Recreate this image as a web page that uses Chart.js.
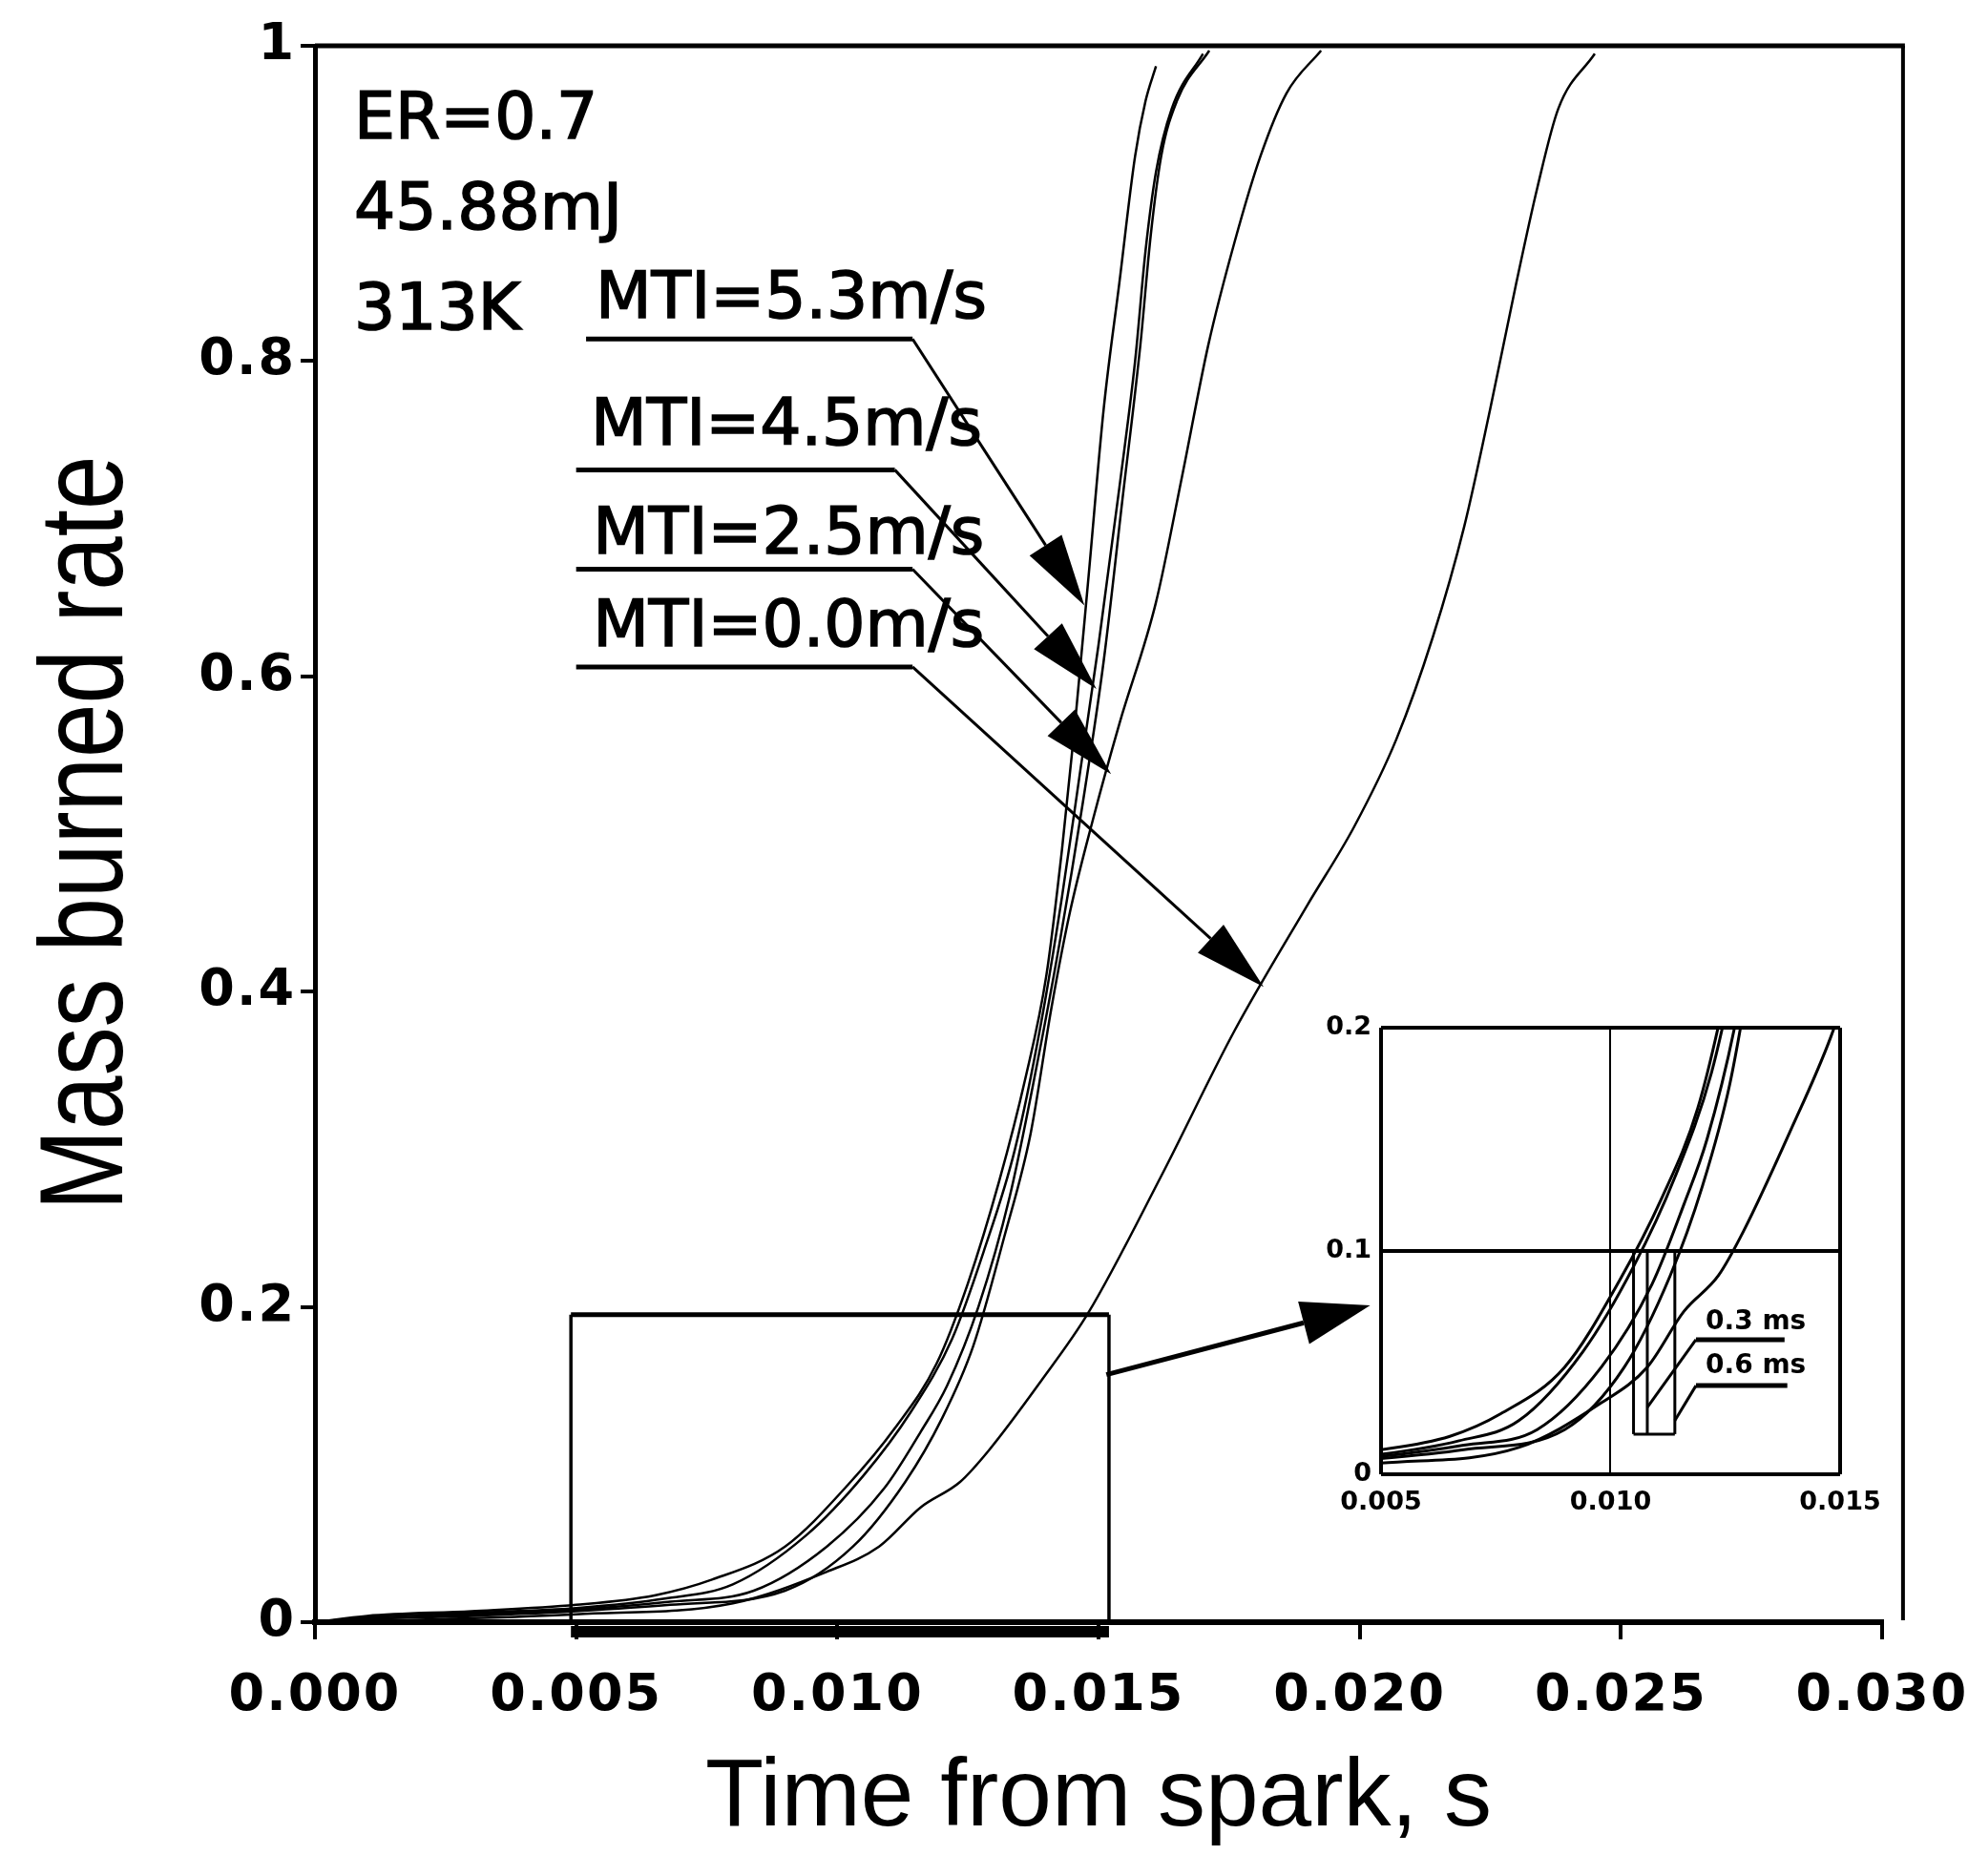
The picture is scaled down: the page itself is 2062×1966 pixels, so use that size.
<!DOCTYPE html>
<html>
<head>
<meta charset="utf-8">
<script src="https://cdn.jsdelivr.net/npm/chart.js@4.4.1/dist/chart.umd.min.js"></script>
<style>
  html, body { margin: 0; padding: 0; background: #fff; }
  #wrap { position: relative; width: 2062px; height: 1966px; background: #fff; overflow: hidden; }
  #mainChart { position: absolute; left: 0; top: 0; }
  #insetChart { position: absolute; left: 1380px; top: 1040px; }
</style>
</head>
<body>
<div id="wrap">
  <canvas id="mainChart" width="2062" height="1966"></canvas>
  <canvas id="insetChart" width="640" height="580"></canvas>
</div>
<script>
// values (time in s, mass burned fraction)
const mti53Time = [0, 0.0010, 0.0030, 0.0050, 0.0065, 0.0076, 0.0090, 0.0102, 0.0111, 0.0119, 0.0125, 0.0131, 0.0136, 0.0140, 0.0143, 0.01455, 0.0148, 0.0151, 0.0154, 0.0157, 0.0159, 0.0161];
const mti53Mass = [0, 0.004, 0.007, 0.011, 0.017, 0.027, 0.048, 0.087, 0.123, 0.164, 0.215, 0.28, 0.345, 0.41, 0.49, 0.57, 0.66, 0.77, 0.85, 0.93, 0.965, 0.987];

// fifth trace, no label in the figure (runs with the 4.5 m/s curve above ~0.6)
const extraTime = [0, 0.0010, 0.0030, 0.0050, 0.0067, 0.0080, 0.0094, 0.0105, 0.0114, 0.0122, 0.0128, 0.0134, 0.0139, 0.0143, 0.01465, 0.0150, 0.0154, 0.0157, 0.0159, 0.0161, 0.0164, 0.0170];
const extraMass = [0, 0.003, 0.006, 0.009, 0.015, 0.024, 0.055, 0.093, 0.133, 0.18, 0.235, 0.30, 0.38, 0.46, 0.54, 0.62, 0.72, 0.80, 0.87, 0.92, 0.96, 0.995];

const mti45Time = [0, 0.0010, 0.0030, 0.0050, 0.0068, 0.0084, 0.0098, 0.0109, 0.0116, 0.0121, 0.0127, 0.0133, 0.0138, 0.01425, 0.0147, 0.0151, 0.01545, 0.0158, 0.0160, 0.0162, 0.0165, 0.01712];
const mti45Mass = [0, 0.002, 0.005, 0.008, 0.013, 0.020, 0.048, 0.085, 0.121, 0.15, 0.2, 0.27, 0.35, 0.43, 0.52, 0.61, 0.71, 0.81, 0.88, 0.93, 0.965, 0.997];

const mti25Time = [0, 0.0010, 0.0030, 0.0050, 0.0068, 0.0090, 0.0103, 0.0113, 0.0120, 0.0126, 0.0132, 0.0137, 0.0141, 0.01445, 0.0149, 0.0154, 0.0161, 0.0166, 0.0171, 0.0176, 0.0181, 0.0186, 0.01926];
const mti25Mass = [0, 0.002, 0.004, 0.007, 0.011, 0.020, 0.048, 0.089, 0.129, 0.175, 0.245, 0.31, 0.39, 0.45, 0.51, 0.57, 0.647, 0.727, 0.81, 0.875, 0.93, 0.97, 0.997];

const mti00Time = [0, 0.0025, 0.0050, 0.0080, 0.0098, 0.0108, 0.0116, 0.01235, 0.0129, 0.0139, 0.0148, 0.0162, 0.0176, 0.0190, 0.0199, 0.0207, 0.0214, 0.0220, 0.0225, 0.0230, 0.0234, 0.0238, 0.0245];
const mti00Mass = [0, 0.002, 0.005, 0.012, 0.032, 0.048, 0.073, 0.089, 0.109, 0.153, 0.196, 0.283, 0.375, 0.455, 0.505, 0.56, 0.625, 0.695, 0.77, 0.85, 0.91, 0.96, 0.995];

const xTickLabels = ['0.000', '0.005', '0.010', '0.015', '0.020', '0.025', '0.030'];
const yTickLabels = ['0', '0.2', '0.4', '0.6', '0.8', '1'];
const insetXTickLabels = ['0.005', '0.010', '0.015'];
const insetYTickLabels = ['0', '0.1', '0.2'];

const curves = [
  { label: 'MTI=5.3m/s', t: mti53Time, m: mti53Mass },
  { label: 'unlabelled', t: extraTime, m: extraMass },
  { label: 'MTI=4.5m/s', t: mti45Time, m: mti45Mass },
  { label: 'MTI=2.5m/s', t: mti25Time, m: mti25Mass },
  { label: 'MTI=0.0m/s', t: mti00Time, m: mti00Mass }
];

function makeDatasets(width) {
  return curves.map(c => ({
    label: c.label,
    data: c.t.map((t, i) => ({ x: t, y: c.m[i] })),
    borderColor: '#000',
    borderWidth: width,
    pointRadius: 0,
    fill: false,
    cubicInterpolationMode: 'monotone'
  }));
}

const SANS = "'Liberation Sans', Arial, sans-serif";
const DEJA = "'DejaVu Sans', sans-serif";

// annotation anchors, in data units
const notes = {
  conditions: [['ER=0.7', 0.00075, 0.941], ['45.88mJ', 0.00075, 0.884], ['313K', 0.00075, 0.820]],
  mti: [
    { text: 'MTI=5.3m/s', x: 0.00537, y: 0.8275, from: 0.00519, to: 0.01144, lineY: 0.814, tip: [0.01473, 0.645] },
    { text: 'MTI=4.5m/s', x: 0.00528, y: 0.747, from: 0.0050, to: 0.0111, lineY: 0.731, tip: [0.01496, 0.592] },
    { text: 'MTI=2.5m/s', x: 0.00532, y: 0.678, from: 0.0050, to: 0.01144, lineY: 0.668, tip: [0.01524, 0.538] },
    { text: 'MTI=0.0m/s', x: 0.00532, y: 0.619, from: 0.0050, to: 0.01144, lineY: 0.606, tip: [0.01816, 0.403] }
  ],
  box: { x0: 0.0049, x1: 0.0152, y1: 0.195 },
  zoomArrow: { from: [0.01515, 0.157], to: [0.0202, 0.201] },
  frameRight: 0.0304
};

const insetNotesData = {
  delays: [0.0105, 0.0108, 0.0114],
  delayTop: 0.1,
  delayBottom: 0.018,
  labels: [
    { text: '0.3 ms', x: 0.01207, y: 0.065, from: 0.01186, to: 0.01379, lineY: 0.0603, end: [0.0108, 0.030] },
    { text: '0.6 ms', x: 0.01207, y: 0.0453, from: 0.01186, to: 0.01385, lineY: 0.0397, end: [0.0114, 0.024] }
  ]
};

function arrow(ctx, x1, y1, x2, y2, lw, headLen, headW) {
  const a = Math.atan2(y2 - y1, x2 - x1);
  const bx = x2 - headLen * Math.cos(a), by = y2 - headLen * Math.sin(a);
  ctx.lineWidth = lw;
  ctx.beginPath(); ctx.moveTo(x1, y1); ctx.lineTo(bx, by); ctx.stroke();
  ctx.beginPath();
  ctx.moveTo(x2, y2);
  ctx.lineTo(bx + headW / 2 * Math.sin(a), by - headW / 2 * Math.cos(a));
  ctx.lineTo(bx - headW / 2 * Math.sin(a), by + headW / 2 * Math.cos(a));
  ctx.closePath(); ctx.fill();
}

function seg(ctx, x1, y1, x2, y2, lw) {
  ctx.lineWidth = lw;
  ctx.beginPath(); ctx.moveTo(x1, y1); ctx.lineTo(x2, y2); ctx.stroke();
}

// text with a light outline so it reads as heavy as the scanned lettering
function heavyText(ctx, text, x, y) {
  ctx.fillText(text, x, y);
  ctx.lineWidth = 1.6;
  ctx.strokeText(text, x, y);
}

const figureNotes = {
  id: 'figureNotes',
  beforeDraw(chart) { chart.ctx.letterSpacing = '0px'; },
  afterDatasetsDraw(chart) {
    const { ctx, scales: { x, y } } = chart;
    const px = v => x.getPixelForValue(v), py = v => y.getPixelForValue(v);
    ctx.save();
    ctx.strokeStyle = '#000'; ctx.fillStyle = '#000'; ctx.lineCap = 'butt';

    // frame: top and right
    seg(ctx, px(0), py(1), px(notes.frameRight) + 2, py(1), 5);
    seg(ctx, px(notes.frameRight), py(1), px(notes.frameRight), py(0) - 2, 4);

    // conditions text
    ctx.font = '68px ' + DEJA; ctx.textAlign = 'left'; ctx.textBaseline = 'alphabetic';
    notes.conditions.forEach(([t, xv, yv]) => heavyText(ctx, t, px(xv), py(yv)));

    // MTI callouts
    notes.mti.forEach(n => {
      heavyText(ctx, n.text, px(n.x), py(n.y));
      seg(ctx, px(n.from), py(n.lineY), px(n.to), py(n.lineY), 5);
      arrow(ctx, px(n.to), py(n.lineY), px(n.tip[0]), py(n.tip[1]), 3, 75, 40);
    });

    // zoom box
    const b = notes.box;
    seg(ctx, px(b.x0), py(0), px(b.x0), py(b.y1), 3.5);
    seg(ctx, px(b.x1), py(0), px(b.x1), py(b.y1), 3.5);
    seg(ctx, px(b.x0), py(b.y1), px(b.x1), py(b.y1), 5);
    seg(ctx, px(b.x0), py(0) + 10, px(b.x1), py(0) + 10, 12);

    const za = notes.zoomArrow;
    arrow(ctx, px(za.from[0]), py(za.from[1]), px(za.to[0]), py(za.to[1]), 5, 72, 46);
    ctx.restore();
    ctx.letterSpacing = '2px';
  },
  afterDraw(chart) {
    const ctx = chart.ctx;
    ctx.letterSpacing = '0px';
    ctx.save();
    ctx.fillStyle = '#000';
    ctx.translate(128, 873);
    ctx.rotate(-Math.PI / 2);
    ctx.scale(0.82, 1);
    ctx.font = '124px ' + SANS;
    ctx.textAlign = 'center'; ctx.textBaseline = 'alphabetic';
    ctx.fillText('Mass burned rate', 0, 0);
    ctx.restore();
  }
};

const mainChart = new Chart(document.getElementById('mainChart'), {
  type: 'line',
  data: { datasets: makeDatasets(2.5) },
  options: {
    responsive: false, animation: false, devicePixelRatio: 1,
    layout: { padding: { top: 48, right: 90, left: 0, bottom: 0 } },
    plugins: { legend: { display: false }, tooltip: { enabled: false } },
    scales: {
      x: {
        type: 'linear', min: 0, max: 0.03,
        ticks: { stepSize: 0.005, autoSkip: false, maxRotation: 0, z: 1, color: '#000', padding: 28,
          font: { family: DEJA, size: 54, weight: 'bold' }, callback: (v, i) => xTickLabels[i] },
        grid: { drawOnChartArea: false, tickLength: 18, color: '#000', lineWidth: 4 },
        border: { color: '#000', width: 6 },
        title: { display: true, text: 'Time from spark, s', color: '#000', font: { family: SANS, size: 100 }, padding: { top: 0, bottom: 21 } },
        afterFit: s => { s.height = 266; s.paddingLeft = 0; s.paddingRight = 0; }
      },
      y: {
        min: 0, max: 1,
        ticks: { stepSize: 0.2, z: 1, color: '#000', padding: 5,
          font: { family: DEJA, size: 54, weight: 'bold' }, callback: (v, i) => yTickLabels[i] },
        grid: { drawOnChartArea: false, tickLength: 15, color: '#000', lineWidth: 4 },
        border: { color: '#000', width: 5 },
        title: { display: false },
        afterFit: s => { s.width = 330; }
      }
    }
  },
  plugins: [figureNotes]
});

const insetNotes = {
  id: 'insetNotes',
  afterDatasetsDraw(chart) {
    const { ctx, scales: { x, y } } = chart;
    const px = v => x.getPixelForValue(v), py = v => y.getPixelForValue(v);
    const d = insetNotesData;
    ctx.save();
    ctx.strokeStyle = '#000'; ctx.fillStyle = '#000';
    d.delays.forEach(t => seg(ctx, px(t), py(d.delayTop), px(t), py(d.delayBottom), 3));
    seg(ctx, px(d.delays[0]), py(d.delayBottom), px(d.delays[d.delays.length - 1]), py(d.delayBottom), 3);
    ctx.font = 'bold 28px ' + DEJA; ctx.textAlign = 'left'; ctx.textBaseline = 'alphabetic';
    d.labels.forEach(l => {
      ctx.fillText(l.text, px(l.x), py(l.y));
      seg(ctx, px(l.from), py(l.lineY), px(l.to), py(l.lineY), 5);
      seg(ctx, px(l.from), py(l.lineY), px(l.end[0]), py(l.end[1]), 3);
    });
    ctx.restore();
  }
};

const insetChart = new Chart(document.getElementById('insetChart'), {
  type: 'line',
  data: { datasets: makeDatasets(3) },
  options: {
    responsive: false, animation: false, devicePixelRatio: 1,
    layout: { padding: { top: 37, right: 92, left: 0, bottom: 0 } },
    plugins: { legend: { display: false }, tooltip: { enabled: false } },
    scales: {
      x: {
        type: 'linear', min: 0.005, max: 0.015,
        ticks: { stepSize: 0.005, autoSkip: false, maxRotation: 0, color: '#000', padding: 14,
          font: { family: DEJA, size: 27, weight: 'bold' }, callback: (v, i) => insetXTickLabels[i] },
        grid: { color: '#000', lineWidth: c => c.index === 1 ? 2 : 4, drawTicks: false },
        border: { display: false },
        afterFit: s => { s.height = 75; s.paddingLeft = 0; s.paddingRight = 0; }
      },
      y: {
        min: 0, max: 0.2,
        ticks: { stepSize: 0.1, color: '#000', padding: 10,
          font: { family: DEJA, size: 27, weight: 'bold' }, callback: (v, i) => insetYTickLabels[i] },
        grid: { color: '#000', lineWidth: 4, drawTicks: false },
        border: { display: false },
        afterFit: s => { s.width = 67; }
      }
    }
  },
  plugins: [insetNotes]
});
</script>
</body>
</html>
